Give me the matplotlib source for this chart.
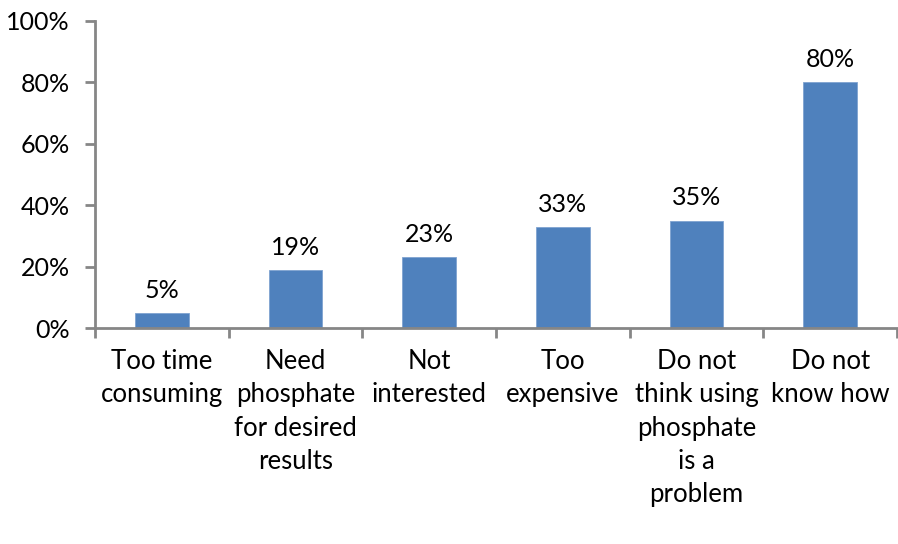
import matplotlib.pyplot as plt
from matplotlib.ticker import FuncFormatter

categories = ["Too time\nconsuming", "Need\nphosphate\nfor desired\nresults",
              "Not\ninterested", "Too\nexpensive",
              "Do not\nthink using\nphosphate\nis a\nproblem", "Do not\nknow how"]
values = [5, 19, 23, 33, 35, 80]

plt.rcParams['font.family'] = ['Lato', 'DejaVu Sans']
axis_grey = "#868686"

fig = plt.figure(figsize=(8.98, 5.44), dpi=100)
ax = fig.add_axes([0.1058, 0.397, 0.893, 0.5646])

x = list(range(len(values)))
bars = ax.bar(x, values, width=0.4, color="#4F81BD", edgecolor="#7FA3D0", linewidth=0.6)

for xi, v in zip(x, values):
    ax.annotate(f"{v}%", (xi, v), xytext=(0, 8), textcoords="offset points",
                ha="center", va="bottom", fontsize=18)

ax.set_xlim(-0.5, len(values) - 0.5)
ax.set_ylim(0, 100)
ax.set_yticks(range(0, 101, 20))
ax.yaxis.set_major_formatter(FuncFormatter(lambda v, p: f"{v:.0f}%"))

# category labels sit between boundary ticks
ax.set_xticks([i - 0.5 for i in range(len(values) + 1)])
ax.set_xticklabels([])
ax.set_xticks(x, minor=True)
ax.set_xticklabels(categories, minor=True, fontsize=18.5, linespacing=1.42, va="top")
ax.tick_params(axis="x", which="minor", length=0, pad=15)
ax.tick_params(axis="x", which="major", length=7, width=2, color=axis_grey, direction="out")
ax.tick_params(axis="y", length=7, width=2, color=axis_grey, labelsize=18, pad=11)

for side in ["top", "right"]:
    ax.spines[side].set_visible(False)
for side in ["left", "bottom"]:
    ax.spines[side].set_color(axis_grey)
    ax.spines[side].set_linewidth(2)

fig.savefig("out.png", dpi=100)
